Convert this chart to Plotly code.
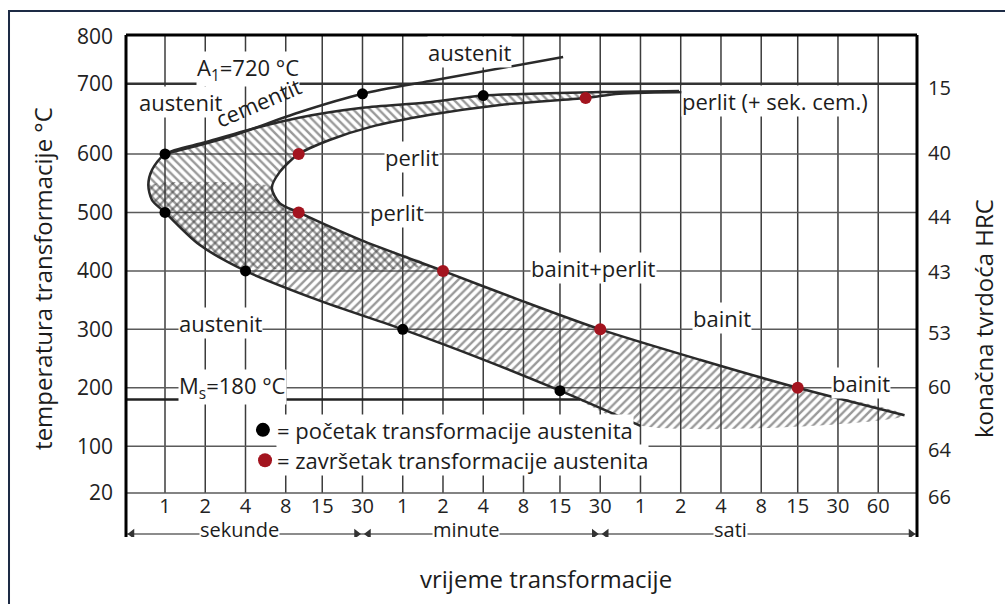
import numpy as np
import plotly.graph_objects as go

# ---- time axis (seconds) : grid positions and printed tick labels ----
tick_seconds = [1, 2, 4, 8, 15, 30, 60, 120, 240, 480, 900, 1800,
                3600, 7200, 14400, 28800, 54000, 108000, 216000]
tick_labels = ["1", "2", "4", "8", "15", "30", "1", "2", "4", "8", "15", "30",
               "1", "2", "4", "8", "15", "30", "60"]
unit_bounds = [30, 1800]          # where the seconds / minutes / hours arrows meet

# ---- temperature axis ----
temp_grid = [20, 100, 200, 300, 400, 500, 600]
temp_tick_vals = [20, 100, 200, 300, 400, 500, 600, 720, 800]
temp_tick_text = ["20", "100", "200", "300", "400", "500", "600", "700", "800"]

# ---- final hardness (HRC) printed on the right ----
hrc_temp = [13, 94, 201, 294, 398, 492, 602, 713]
hrc_text = ["66", "64", "60", "53", "43", "44", "40", "15"]

A1 = 720
MS = 180

# ---- transformation start curve (outer C), time in s, temperature in °C ----
start_t = [7000, 1800, 240, 90, 30, 10, 4, 2, 1, 0.8, 0.75, 0.8, 1,
           1.8, 4, 14, 60, 230, 900, 3600]
start_T = [708, 706, 700, 688, 679, 662, 640, 620, 600, 573, 547, 521, 500,
           445, 400, 350, 300, 250, 195, 135]

# ---- transformation finish curve (inner C) ----
finish_t = [8500, 2500, 1400, 320, 96, 34, 17, 10, 7.2, 6.3, 7.2, 10,
            29, 120, 450, 1800, 10000, 54000, 340000]
finish_T = [706, 703, 696, 684, 667, 646, 624, 600, 569, 542, 516, 500,
            453, 400, 350, 300, 248, 200, 153]

# ---- proeutectoid cementite line ----
cem_t = [1, 2.9, 10, 30, 96, 950]
cem_T = [600, 628, 671, 703, 725, 766]

# ---- measured points ----
start_pts_t = [1, 1, 4, 60, 900, 30, 240]
start_pts_T = [600, 500, 400, 300, 195, 703, 700]
finish_pts_t = [10, 10, 120, 1800, 54000, 1400]
finish_pts_T = [600, 500, 400, 300, 200, 696]

X_RANGE = [-0.2917, 5.6245]       # log10 seconds
Y_RANGE = [-55.3, 803.6]

FONT = "Open Sans"
INK = "#1c1c1c"
RED = "#a3141f"
CURVE = "#2a2a2a"


def clip_polygon(lx, ty, level, keep_above):
    """Clip a closed ring (log-time, temperature) against a horizontal level."""
    pts = list(zip(lx, ty))

    def inside(p):
        return p[1] >= level if keep_above else p[1] <= level

    def cross(a, b):
        f = (level - a[1]) / (b[1] - a[1])
        return (a[0] + f * (b[0] - a[0]), level)

    out = []
    for i in range(len(pts)):
        cur, prev = pts[i], pts[i - 1]
        if inside(cur):
            if not inside(prev):
                out.append(cross(prev, cur))
            out.append(cur)
        elif inside(prev):
            out.append(cross(prev, cur))
    xs = [10 ** p[0] for p in out]
    ys = [p[1] for p in out]
    return xs, ys


fig = go.Figure()

t_left, t_right = 10 ** X_RANGE[0], 10 ** X_RANGE[1]

# vertical grid lines
vx, vy = [], []
for t in tick_seconds:
    vx += [t, t, None]
    vy += [20, Y_RANGE[1], None]
fig.add_trace(go.Scatter(x=vx, y=vy, mode="lines",
                         line=dict(color="#3c3c3c", width=1.5), hoverinfo="skip"))

# horizontal grid lines
hx, hy = [], []
for T in temp_grid:
    hx += [t_left, t_right, None]
    hy += [T, T, None]
fig.add_trace(go.Scatter(x=hx, y=hy, mode="lines",
                         line=dict(color="#5a5a5a", width=1.5), hoverinfo="skip"))

# hatched transformation band, split into the upper (\\) and lower (/) hatch zones
band_lx = list(np.log10(start_t)) + list(np.log10(finish_t[::-1]))
band_T = list(start_T) + list(finish_T[::-1])
for level, above, shape in [(410, True, "\\"), (545, False, "/")]:
    px_, py_ = clip_polygon(band_lx, band_T, level, above)
    fig.add_trace(go.Scatter(
        x=px_ + [px_[0]], y=py_ + [py_[0]], mode="lines",
        line=dict(width=0, shape="spline", smoothing=0.8),
        fill="toself", fillcolor="rgba(0,0,0,0)",
        fillpattern=dict(shape=shape, fgcolor="#333333",
                         bgcolor="rgba(0,0,0,0)", size=6, solidity=0.4),
        hoverinfo="skip"))

# A1 and Ms lines
fig.add_trace(go.Scatter(x=[t_left, t_right], y=[A1, A1], mode="lines",
                         line=dict(color="#333333", width=2.5), hoverinfo="skip"))
low = [i for i, T in enumerate(start_T) if T < 300]
ms_lt = np.interp(MS, [start_T[i] for i in low][::-1],
                  [np.log10(start_t[i]) for i in low][::-1])
fig.add_trace(go.Scatter(x=[t_left, 10 ** ms_lt], y=[MS, MS], mode="lines",
                         line=dict(color="#222222", width=2.5), hoverinfo="skip"))

# curves
for xs, ys in [(start_t, start_T), (finish_t, finish_T), (cem_t, cem_T)]:
    fig.add_trace(go.Scatter(x=xs, y=ys, mode="lines",
                             line=dict(color=CURVE, width=2.5, shape="spline", smoothing=0.8),
                             hoverinfo="skip"))

# measured points
fig.add_trace(go.Scatter(x=start_pts_t, y=start_pts_T, mode="markers",
                         marker=dict(color="black", size=11), hoverinfo="skip"))
fig.add_trace(go.Scatter(x=finish_pts_t, y=finish_pts_T, mode="markers",
                         marker=dict(color=RED, size=12), hoverinfo="skip"))

# time tick labels inside the frame
fig.add_trace(go.Scatter(x=tick_seconds, y=[-5] * len(tick_seconds), mode="text",
                         text=tick_labels, textposition="middle center",
                         textfont=dict(family=FONT, size=20, color="#222222"),
                         hoverinfo="skip"))

# unit arrows row
ROW = -50
fig.add_trace(go.Scatter(x=[t_left * 1.02, t_right / 1.02], y=[ROW, ROW], mode="lines",
                         line=dict(color="#666666", width=1.5), hoverinfo="skip"))
edges = [t_left] + unit_bounds + [t_right]
ax_, ay_, sym = [], [], []
step = 10 ** (6 / 133.7)
for a, b in zip(edges[:-1], edges[1:]):
    ax_ += [a * step, b / step]
    ay_ += [ROW, ROW]
    sym += ["triangle-left", "triangle-right"]
fig.add_trace(go.Scatter(x=ax_, y=ay_, mode="markers",
                         marker=dict(symbol=sym, size=9, color="#333333"),
                         hoverinfo="skip"))

# legend dots
fig.add_trace(go.Scatter(x=[5.4], y=[128], mode="markers",
                         marker=dict(color="black", size=14), hoverinfo="skip"))
fig.add_trace(go.Scatter(x=[5.6], y=[76], mode="markers",
                         marker=dict(color=RED, size=14), hoverinfo="skip"))

# invisible trace to anchor the right-hand axis
fig.add_trace(go.Scatter(x=[t_left], y=[0], yaxis="y2", mode="markers",
                         marker=dict(opacity=0), hoverinfo="skip"))

annotations = []


def label(text, t, T, size=22, bg="white", angle=0, xanchor="center"):
    annotations.append(dict(
        x=float(np.log10(t)), y=T, xref="x", yref="y", text=text,
        showarrow=False, textangle=angle, xanchor=xanchor, yanchor="middle",
        font=dict(family=FONT, size=size, color=INK),
        bgcolor=bg, borderpad=0))


label("austenit", 191, 774)
label("A<sub>1</sub>=720 °C", 4.2, 745)
label("austenit", 1.3, 689)
label("cementit", 5.0, 689, bg="rgba(0,0,0,0)", angle=-23)
label("perlit", 70, 595)
label("perlit", 54, 501)
label("perlit (+ sek. cem.)", 36500, 691)
label("bainit+perlit", 1590, 405)
label("austenit", 2.6, 311)
label("bainit", 14700, 319)
label("bainit", 160000, 208)
label("M<sub>s</sub>=180 °C", 3.2, 201)
label("= početak transformacije austenita", 6.8, 128, xanchor="left")
label("= završetak transformacije austenita", 6.8, 76, xanchor="left")
label("sekunde", 3.6, -42, size=20)
label("minute", 178, -42, size=20)
label("sati", 17000, -42, size=20)

# axis titles
title_font = dict(family=FONT, size=24, color=INK)
annotations += [
    dict(x=-0.105, y=0.516, xref="paper", yref="paper", text="temperatura transformacije °C",
         textangle=-90, showarrow=False, xanchor="center", yanchor="middle", font=title_font),
    dict(x=1.0834, y=0.436, xref="paper", yref="paper", text="konačna tvrdoća HRC",
         textangle=-90, showarrow=False, xanchor="center", yanchor="middle", font=title_font),
    dict(x=0.531, y=-0.0817, xref="paper", yref="paper", text="vrijeme transformacije",
         showarrow=False, xanchor="center", yanchor="middle", font=title_font),
]

shapes = [
    # outer frame
    dict(type="rect", xref="paper", yref="paper", x0=-0.1479, x1=1.12, y0=-0.149, y1=1.0478,
         line=dict(color="#1d2b45", width=2), fillcolor="rgba(0,0,0,0)", layer="below"),
    # heavy diagram border (left, top, right)
    dict(type="line", xref="paper", yref="paper", x0=0, x1=0, y0=0, y1=1,
         line=dict(color="black", width=3)),
    dict(type="line", xref="paper", yref="paper", x0=0, x1=1, y0=1, y1=1,
         line=dict(color="black", width=3)),
    dict(type="line", xref="paper", yref="paper", x0=1, x1=1, y0=0, y1=1,
         line=dict(color="black", width=3)),
]

fig.update_layout(
    width=1005, height=604,
    margin=dict(l=126, r=88, t=35, b=67),
    paper_bgcolor="white", plot_bgcolor="white",
    showlegend=False,
    xaxis=dict(type="log", range=X_RANGE, showticklabels=False, showgrid=False,
               zeroline=False, ticks="", showline=False),
    yaxis=dict(range=Y_RANGE, tickvals=temp_tick_vals, ticktext=temp_tick_text,
               showgrid=False, zeroline=False, ticks="", showline=False,
               ticklabelstandoff=12,
               tickfont=dict(family=FONT, size=21, color="#222222")),
    yaxis2=dict(range=Y_RANGE, overlaying="y", side="right", tickvals=hrc_temp,
                ticktext=hrc_text, showgrid=False, zeroline=False, ticks="",
                showline=False, ticklabelstandoff=10,
                tickfont=dict(family=FONT, size=20, color="#222222")),
    annotations=annotations,
    shapes=shapes,
)

fig.write_html("out.html")
